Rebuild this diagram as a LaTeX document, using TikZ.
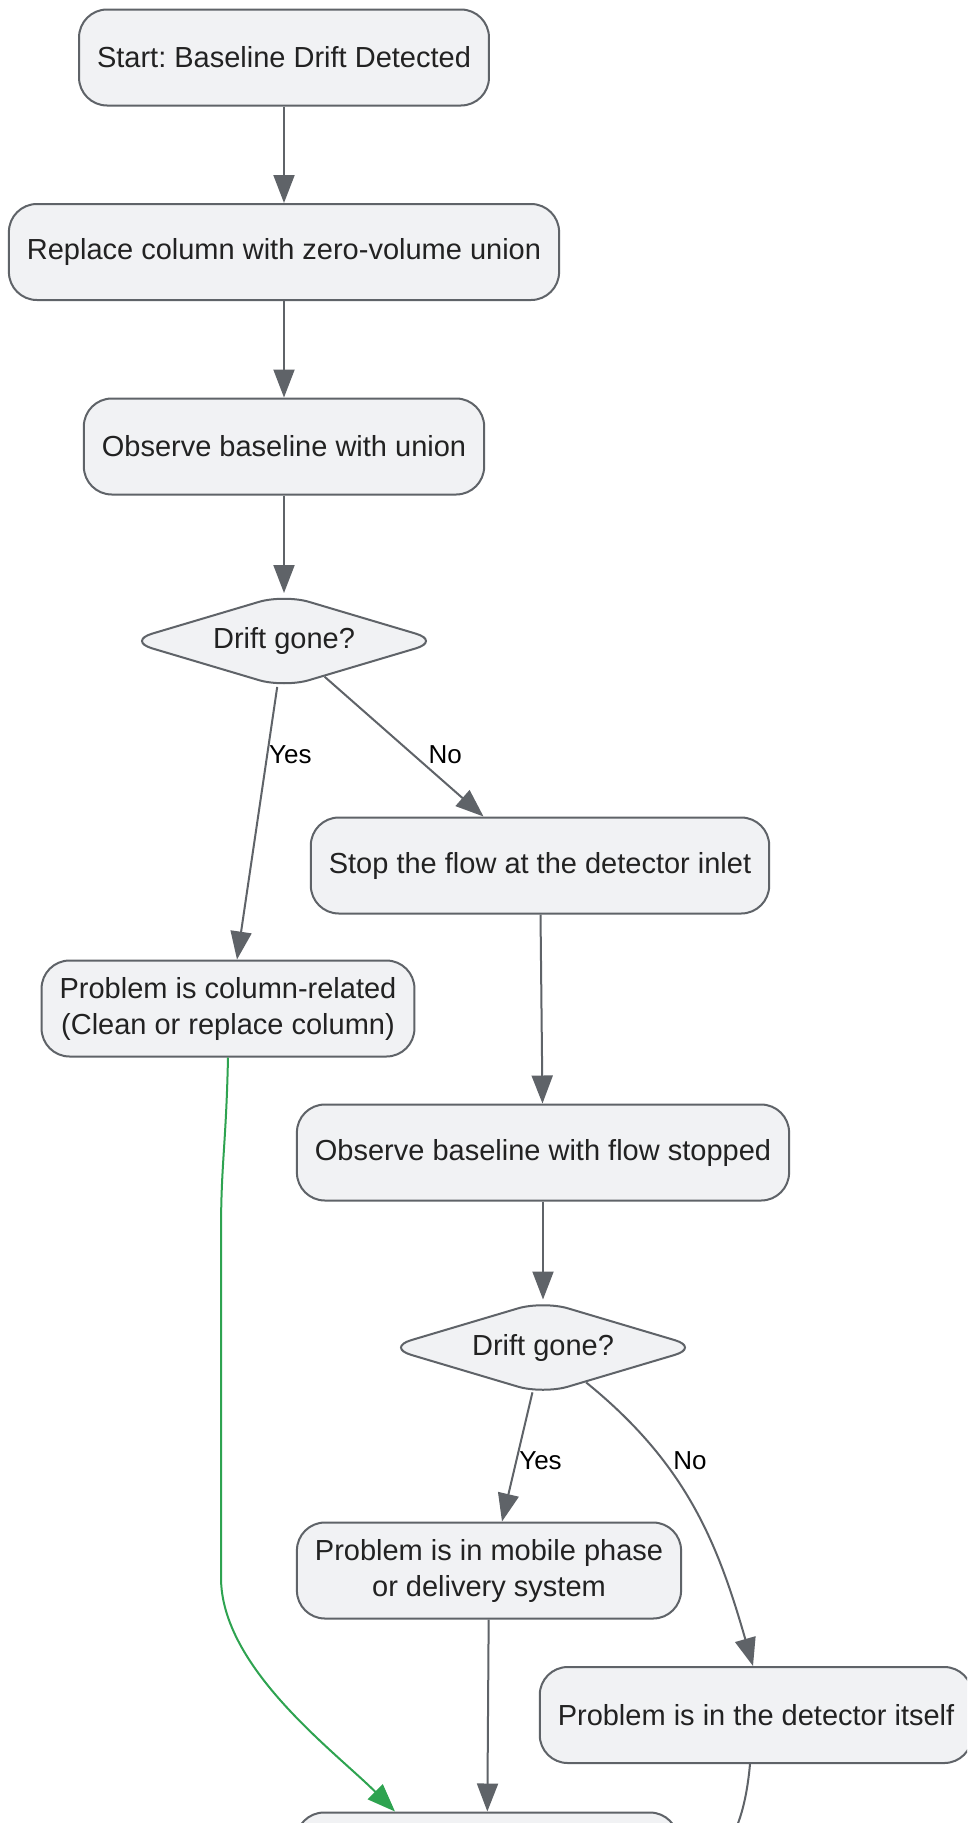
\documentclass[tikz,border=0pt]{standalone}
\usepackage{fontspec}
\setmainfont{Liberation Sans}
\frenchspacing
\usetikzlibrary{arrows.meta,shapes.geometric}
\definecolor{boxfill}{RGB}{241,242,244}
\definecolor{boxline}{RGB}{95,99,104}
\definecolor{boxtext}{RGB}{34,34,34}
\definecolor{okgreen}{RGB}{46,163,80}
\tikzset{
  box/.style={draw=boxline,fill=boxfill,line width=2pt,rounded corners=28pt,
    minimum height=96pt,inner xsep=18pt,align=center,text=boxtext,
    font=\fontsize{29}{36}\selectfont},
  decision/.style={diamond,draw=boxline,fill=boxfill,line width=2pt,rounded corners=26pt,
    aspect=3.3,inner sep=0pt,minimum width=314pt,minimum height=94pt,text=boxtext,
    font=\fontsize{29}{36}\selectfont},
  flow/.style={color=boxline,line width=2pt,-{Triangle[length=28pt,width=21pt]},
    every edge/.append style={color=boxline,line width=2pt}},
  okflow/.style={flow,color=okgreen},
  lbl/.style={font=\fontsize{26}{30}\selectfont,text=black,inner sep=0pt}
}
\begin{document}
\begin{tikzpicture}[x=1pt,y=-1pt]
  \useasboundingbox (0,0) rectangle (967,1823);
  \clip (0,0) rectangle (967,1823);
  \fill[white] (0,0) rectangle (967,1823);

  \node[box] (start) at (284,57.5) {Start: Baseline Drift Detected};
  \node[box,node distance=194.5pt,below of=start] (repl) {Replace column with zero-volume union};
  \node[box,node distance=194.5pt,below of=repl] (obs1) {Observe baseline with union};
  \node[decision,node distance=194.5pt,below of=obs1] (chk1) {Drift gone?};

  \node[box,node distance=224.5pt,below of=chk1,xshift=256pt] (stop) {Stop the flow at the detector inlet};
  \node[box,node distance=367.5pt,below of=chk1,xshift=-56pt] (col) {Problem is column-related\\(Clean or replace column)};
  \node[box,node distance=287pt,below of=stop,xshift=3pt] (obs2) {Observe baseline with flow stopped};
  \node[decision,node distance=195pt,below of=obs2] (chk2) {Drift gone?};

  \node[box,node distance=223pt,below of=chk2,xshift=-54pt] (mob) {Problem is in mobile phase\\or delivery system};
  \node[box,node distance=367.5pt,below of=chk2,xshift=213pt] (det) {Problem is in the detector itself};
  \node[box,node distance=290pt,below of=mob,xshift=-2pt,minimum width=382pt] (end) {};

  \path[flow]
  (start) edge (repl)
  (repl) edge (obs1)
  (obs1) edge (chk1)
  (chk1) edge node[lbl,pos=.25,right=1pt] {Yes} ([xshift=9pt]col.north)
  (chk1) edge node[lbl,pos=.56,right=14pt] {No} ([xshift=-56.5pt]stop.north)
  (stop) edge (obs2)
  (obs2) edge (chk2)
  (chk2) edge node[lbl,pos=.53,right=2pt] {Yes} ([xshift=13pt]mob.north)
  (mob) edge (end);

  \draw[flow] (chk2) to[out=-39,in=106] node[lbl,pos=.32,right=9pt] {No} ([xshift=-3pt]det.north);
  \draw[flow] ([xshift=-6pt]det.south) .. controls +(-8,90) and +(30,0) .. (end.east);
  \draw[okflow] (col.south) .. controls +(-2,90) and +(0,-70) .. ++(-7,175) -- ++(0,345)
    .. controls +(0,90) and +(-60,-60) .. ([xshift=-92pt]end.north);
\end{tikzpicture}
\end{document}
